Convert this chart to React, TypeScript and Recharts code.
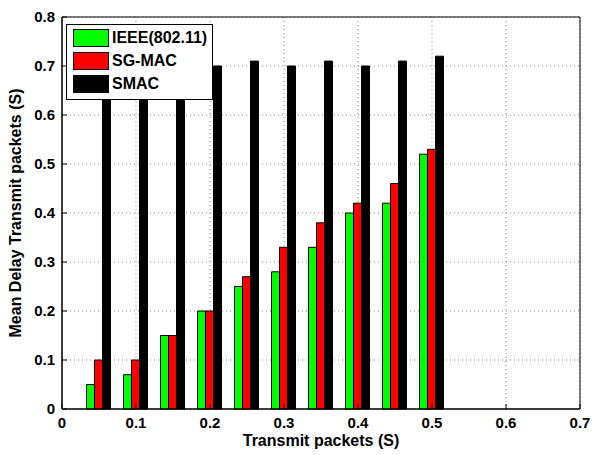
import { BarChart, Bar, XAxis, YAxis, CartesianGrid, ReferenceArea } from 'recharts';

const xValues = [0.05, 0.1, 0.15, 0.2, 0.25, 0.3, 0.35, 0.4, 0.45, 0.5];
const ieee = [0.05, 0.07, 0.15, 0.2, 0.25, 0.28, 0.33, 0.4, 0.42, 0.52];
const sgmac = [0.1, 0.1, 0.15, 0.2, 0.27, 0.33, 0.38, 0.42, 0.46, 0.53];
const smac = [0.7, 0.7, 0.71, 0.7, 0.71, 0.7, 0.71, 0.7, 0.71, 0.72];
const xTicks = [0, 0.1, 0.2, 0.3, 0.4, 0.5, 0.6, 0.7];
const yTicks = [0, 0.1, 0.2, 0.3, 0.4, 0.5, 0.6, 0.7, 0.8];

const series = [
  { key: 'ieee', name: 'IEEE(802.11)', color: '#00ff00' },
  { key: 'sgmac', name: 'SG-MAC', color: '#ff0000' },
  { key: 'smac', name: 'SMAC', color: '#000000' },
];

const data = xValues.map((x, i) => ({ x, ieee: ieee[i], sgmac: sgmac[i], smac: smac[i] }));

const FONT = '"Liberation Sans", Arial, sans-serif';
const tickStyle = { fill: '#000', fontSize: 15, fontWeight: 'bold', fontFamily: FONT };

function XTitle(props: any) {
  const vb = props.viewBox;
  return (
    <text x={vb.x + vb.width / 2} y={446} textAnchor="middle" fontSize={16} fontWeight="bold" fontFamily={FONT} fill="#000">
      Transmit packets (S)
    </text>
  );
}

function YTitle(props: any) {
  const vb = props.viewBox;
  const cy = vb.y + vb.height / 2;
  return (
    <text x={21} y={cy} transform={`rotate(-90 21 ${cy})`} textAnchor="middle" fontSize={16} fontWeight="bold" fontFamily={FONT} fill="#000">
      Mean Delay Transmit packets (S)
    </text>
  );
}

export default function App() {
  return (
    <div style={{ position: 'absolute', left: 0, top: 0, width: 592, height: 455, background: '#fff' }}>
      <BarChart width={592} height={455} data={data} margin={{ top: 17, right: 12, bottom: 0, left: 0 }} barGap={0}>
        <CartesianGrid stroke="#8a8a8a" strokeDasharray="1 3" />
        <XAxis
          dataKey="x"
          type="number"
          domain={[0, 0.7]}
          ticks={xTicks}
          height={46}
          tick={tickStyle}
          tickSize={-5}
          tickMargin={13}
          tickLine={{ stroke: '#000' }}
          axisLine={{ stroke: '#000' }}
          label={<XTitle />}
        />
        <YAxis
          type="number"
          domain={[0, 0.8]}
          ticks={yTicks}
          width={62}
          tick={tickStyle}
          tickSize={-5}
          tickMargin={12}
          tickLine={{ stroke: '#000' }}
          axisLine={{ stroke: '#000' }}
          label={<YTitle />}
        />
        {series.map((s) => (
          <Bar key={s.key} dataKey={s.key} name={s.name} fill={s.color} stroke="#000" strokeWidth={1} barSize={8} isAnimationActive={false} />
        ))}
        <ReferenceArea x1={0} x2={0.7} y1={0} y2={0.8} fill="none" stroke="#000" strokeWidth={1} />
      </BarChart>
      <div
        style={{
          position: 'absolute', left: 66, top: 24, width: 145, height: 74, border: '1px solid #000',
          background: '#fff', fontFamily: FONT, fontWeight: 'bold', fontSize: 16, color: '#000',
        }}
      >
        {series.map((s, i) => (
          <div key={s.key} style={{ position: 'absolute', left: 6, top: 4 + i * 23, height: 18, display: 'flex', alignItems: 'center' }}>
            <span style={{ display: 'inline-block', width: 34, height: 16, background: s.color, border: '1px solid #000', marginRight: 3 }} />
            <span style={{ lineHeight: '18px' }}>{s.name}</span>
          </div>
        ))}
      </div>
    </div>
  );
}
